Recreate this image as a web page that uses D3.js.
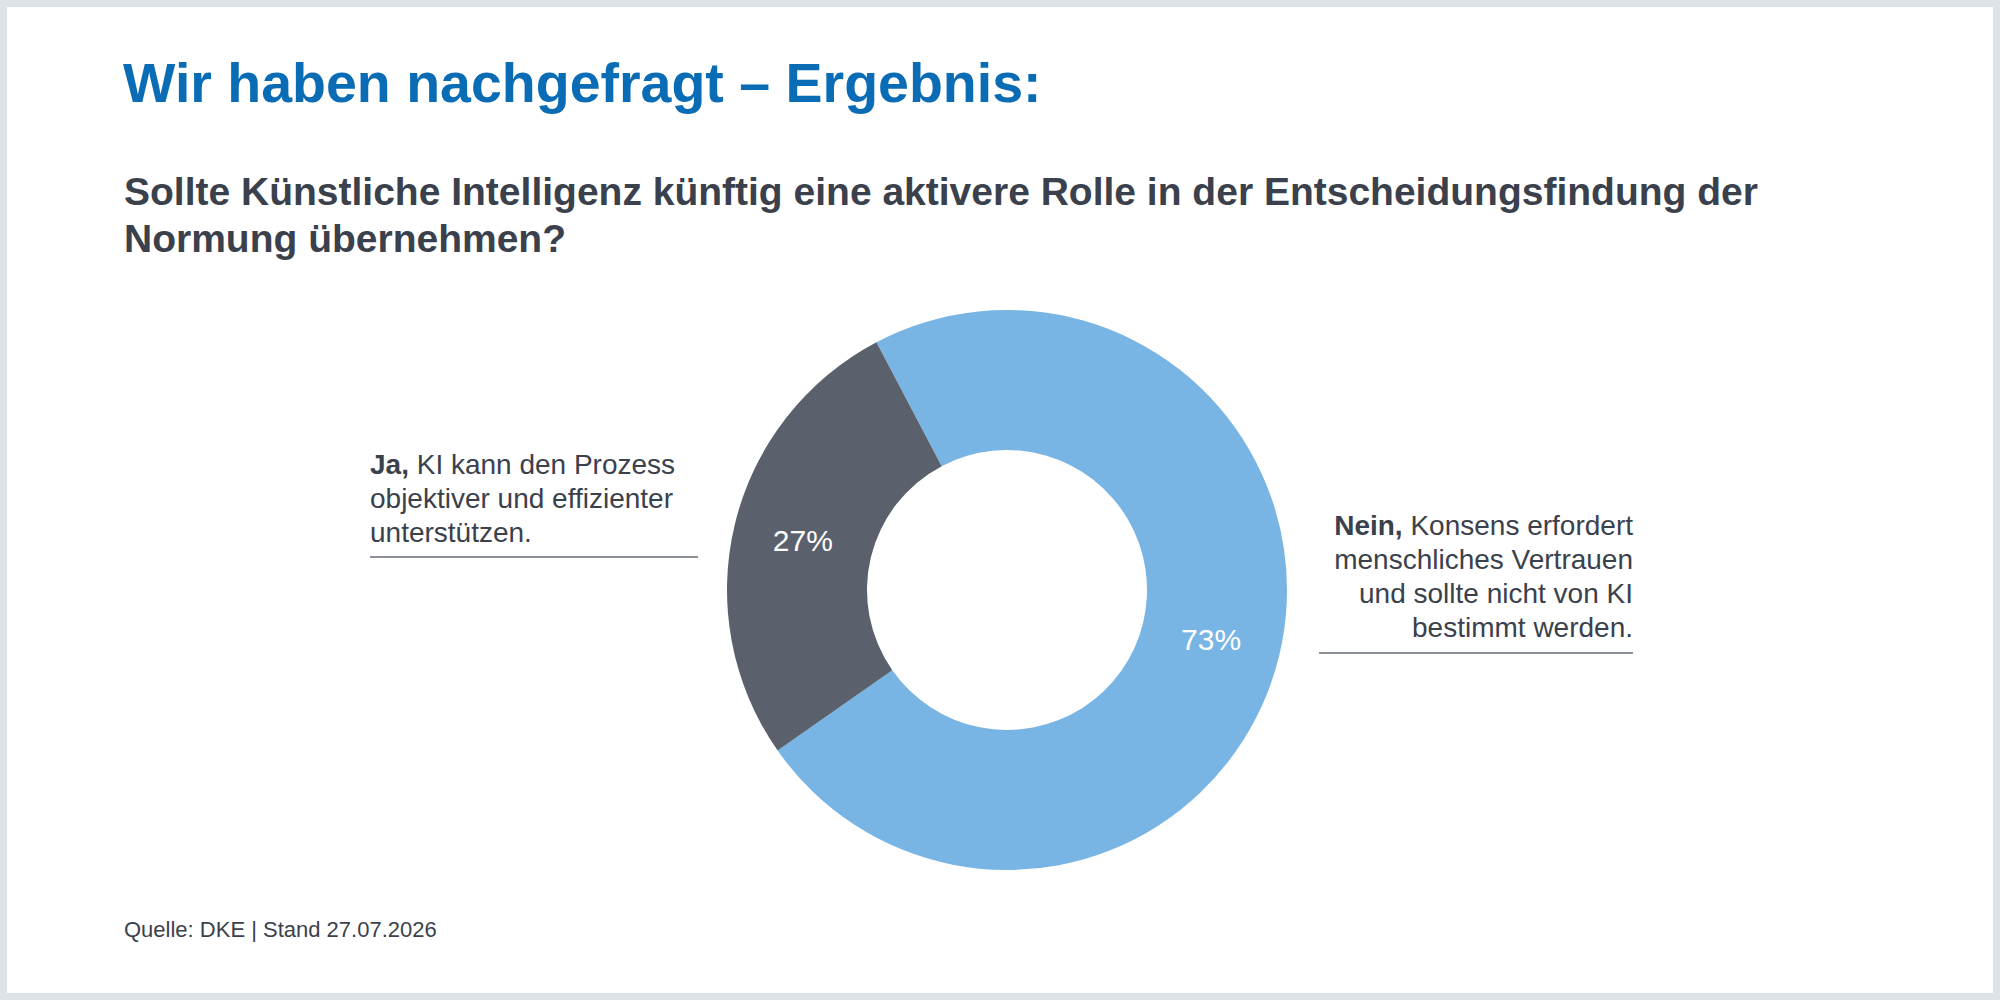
<!DOCTYPE html>
<html>
<head>
<meta charset="utf-8">
<script src="https://cdn.jsdelivr.net/npm/d3@7"></script>
<style>
  html, body { margin: 0; padding: 0; background: #ffffff; }
  svg { display: block; font-family: "Liberation Sans", Arial, Helvetica, sans-serif; }
</style>
</head>
<body>
<svg id="chart" width="2000" height="1000"></svg>
<script>
// ---- data ----
const titleText = "Wir haben nachgefragt – Ergebnis:";
const subtitleLines = [
  "Sollte Künstliche Intelligenz künftig eine aktivere Rolle in der Entscheidungsfindung der",
  "Normung übernehmen?"
];
const categories = ["Nein", "Ja"];
const values = [73, 27];
const sliceColors = ["#79b5e4", "#5a616c"];
const labelBold = ["Nein,", "Ja,"];
const labelRest = [
  ["Konsens erfordert", "menschliches Vertrauen", "und sollte nicht von KI", "bestimmt werden."],
  ["KI kann den Prozess", "objektiver und effizienter", "unterstützen."]
];
const sourceText = "Quelle: DKE | Stand 27.07.2026";

// ---- layout ----
const W = 2000, H = 1000;
const svg = d3.select("#chart");
const textColor = "#3b414c";

svg.append("rect").attr("width", W).attr("height", H).attr("fill", "#dde3e7");
svg.append("rect").attr("x", 7).attr("y", 7).attr("width", W - 14).attr("height", H - 14).attr("fill", "#ffffff");

svg.append("text")
  .attr("x", 123).attr("y", 102)
  .attr("font-size", 55.5).attr("font-weight", "bold")
  .attr("fill", "#0b6cb6")
  .text(titleText);

svg.append("text")
  .attr("font-size", 39).attr("font-weight", "bold").attr("fill", textColor)
  .selectAll("tspan").data(subtitleLines).join("tspan")
  .attr("x", 124).attr("y", (d, i) => 205 + i * 47)
  .text(d => d);

// ---- donut ----
const cx = 1007, cy = 590, rOuter = 280, rInner = 140;
const start = -27.8 * Math.PI / 180;
const pie = d3.pie().sort(null).value(d => d.value)
  .startAngle(start).endAngle(start + 2 * Math.PI);
const data = categories.map((c, i) => ({ cat: c, value: values[i], color: sliceColors[i] }));
const arcs = pie(data);
const arc = d3.arc().innerRadius(rInner).outerRadius(rOuter);
const labelArc = d3.arc().innerRadius((rInner + rOuter) / 2).outerRadius((rInner + rOuter) / 2);

const g = svg.append("g").attr("transform", `translate(${cx},${cy})`);
g.selectAll("path").data(arcs).join("path")
  .attr("d", arc)
  .attr("fill", d => d.data.color);

g.selectAll("text.pct").data(arcs).join("text")
  .attr("class", "pct")
  .attr("transform", d => `translate(${labelArc.centroid(d)})`)
  .attr("text-anchor", "middle")
  .attr("dy", "0.36em")
  .attr("font-size", 30)
  .attr("fill", "#ffffff")
  .text(d => d.data.value + "%");

// ---- side labels ----
const blocks = [
  { idx: 0, x: 1633, anchor: "end", y0: 535, lineX1: 1319, lineX2: 1633, lineY: 653 },
  { idx: 1, x: 370, anchor: "start", y0: 474, lineX1: 370, lineX2: 698, lineY: 557 }
];
const lh = 34;
blocks.forEach(b => {
  const lines = labelRest[b.idx];
  lines.forEach((line, li) => {
    const t = svg.append("text")
      .attr("x", b.x).attr("y", b.y0 + li * lh)
      .attr("text-anchor", b.anchor)
      .attr("font-size", 28).attr("fill", textColor);
    if (li === 0) {
      t.append("tspan").attr("font-weight", "bold").text(labelBold[b.idx] + " ");
    }
    t.append("tspan").text(line);
  });
  svg.append("line")
    .attr("x1", b.lineX1).attr("x2", b.lineX2)
    .attr("y1", b.lineY).attr("y2", b.lineY)
    .attr("stroke", "#8d919a").attr("stroke-width", 2);
});

svg.append("text")
  .attr("x", 124).attr("y", 937)
  .attr("font-size", 22).attr("fill", textColor)
  .text(sourceText);
</script>
</body>
</html>
